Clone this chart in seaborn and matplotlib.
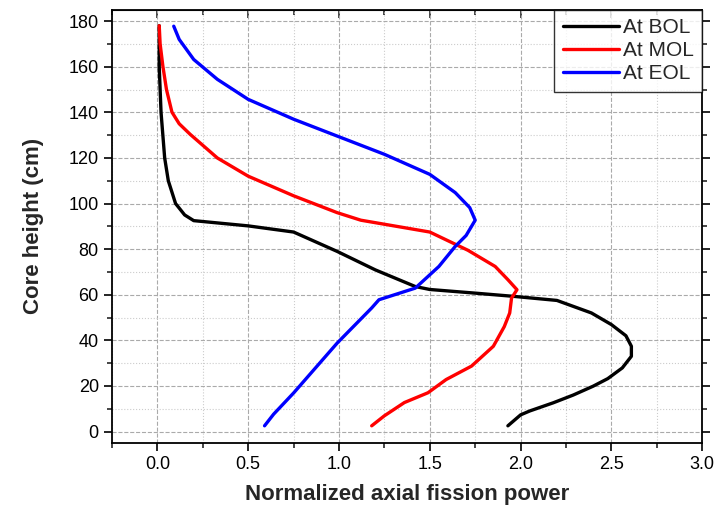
import matplotlib.pyplot as plt
import seaborn as sns
import pandas as pd
from matplotlib.ticker import MultipleLocator

# values
bol_power = [0.01, 0.01, 0.02, 0.04, 0.06, 0.10, 0.15, 0.20, 0.50, 0.75, 0.99, 1.20, 1.42, 1.50,
             1.75, 1.96, 2.20, 2.39, 2.50, 2.58, 2.61, 2.61, 2.56, 2.48, 2.40, 2.29, 2.18, 2.05, 2.00, 1.93]
bol_height = [178, 160, 140, 120, 110, 100, 95, 92.5, 90.2, 87.5, 79, 70.9, 63.6, 62.3,
              60.7, 59.3, 57.5, 52, 46.9, 42, 37.4, 33, 27.9, 23.2, 19.9, 16, 12.6, 9, 7.3, 2.5]

mol_power = [0.01, 0.015, 0.03, 0.05, 0.08, 0.12, 0.18, 0.33, 0.50, 0.75, 0.99, 1.12, 1.50, 1.71,
             1.86, 1.93, 1.98, 1.95, 1.94, 1.91, 1.85, 1.73, 1.59, 1.49, 1.36, 1.25, 1.18]
mol_height = [178, 170, 160.3, 150, 140.1, 135, 130.4, 120, 112, 103.4, 96, 92.7, 87.5, 79.5,
              72.4, 66.6, 62.2, 58.5, 52, 46, 37.4, 28.7, 22.8, 17, 12.7, 6.9, 2.5]

eol_power = [0.09, 0.12, 0.20, 0.33, 0.50, 0.75, 0.99, 1.25, 1.50, 1.64, 1.72, 1.75, 1.70, 1.64,
             1.55, 1.42, 1.22, 1.18, 0.99, 0.75, 0.64, 0.59]
eol_height = [177.8, 172, 163.2, 154.5, 145.7, 137, 129.6, 121.6, 112.8, 104.8, 98.2, 92.7, 86, 81.2,
              72.4, 62.9, 57.8, 54.2, 38.8, 16.9, 7.6, 2.5]

labels = ['At BOL', 'At MOL', 'At EOL']
colors = ['black', 'red', 'blue']

df = pd.concat([
    pd.DataFrame({'power': bol_power, 'height': bol_height, 'state': labels[0]}),
    pd.DataFrame({'power': mol_power, 'height': mol_height, 'state': labels[1]}),
    pd.DataFrame({'power': eol_power, 'height': eol_height, 'state': labels[2]}),
], ignore_index=True)

sns.set_style('ticks')
plt.rcParams['font.family'] = ['Liberation Sans', 'DejaVu Sans']

fig = plt.figure(figsize=(7.18, 5.15), dpi=100)
ax = fig.add_axes([0.156, 0.140, 0.822, 0.841])

sns.lineplot(data=df, x='power', y='height', hue='state', sort=False, estimator=None,
             palette=dict(zip(labels, colors)), linewidth=2.4, ax=ax)

ax.set_xlim(-0.25, 3.0)
ax.set_ylim(-5, 185)
ax.xaxis.set_major_locator(MultipleLocator(0.5))
ax.xaxis.set_minor_locator(MultipleLocator(0.25))
ax.yaxis.set_major_locator(MultipleLocator(20))
ax.yaxis.set_minor_locator(MultipleLocator(10))
ax.set_xticks([0.0, 0.5, 1.0, 1.5, 2.0, 2.5, 3.0])
ax.set_xticklabels(['0.0', '0.5', '1.0', '1.5', '2.0', '2.5', '3.0'])

ax.grid(which='major', color='#aaaaaa', linestyle='--', linewidth=0.8)
ax.grid(which='minor', color='#cccccc', linestyle=':', linewidth=0.8)
ax.set_axisbelow(True)

ax.tick_params(which='major', direction='out', length=6, width=1.2, labelsize=13, colors='black')
ax.tick_params(which='minor', direction='out', length=3.5, width=1.2)
ax.tick_params(axis='y', which='both', right=True)
for s in ax.spines.values():
    s.set_linewidth(1.3)
    s.set_color('black')

top = ax.secondary_xaxis('top')
top.xaxis.set_major_locator(MultipleLocator(0.5))
top.xaxis.set_minor_locator(MultipleLocator(0.25))
top.tick_params(which='major', direction='in', length=6, width=1.2, labeltop=False)
top.tick_params(which='minor', direction='in', length=3.5, width=1.2)

ax.set_xlabel('Normalized axial fission power', fontsize=16, fontweight='bold', labelpad=8)
ax.set_ylabel('Core height (cm)', fontsize=16, fontweight='bold', labelpad=18)

leg = ax.legend(loc='upper right', fontsize=15, frameon=True, fancybox=False,
                edgecolor='black', borderaxespad=0, handlelength=2.7, handletextpad=0.2,
                labelspacing=0.2)
leg.get_frame().set_linewidth(1.0)
leg.set_title(None)

plt.savefig('out.png', dpi=100)
